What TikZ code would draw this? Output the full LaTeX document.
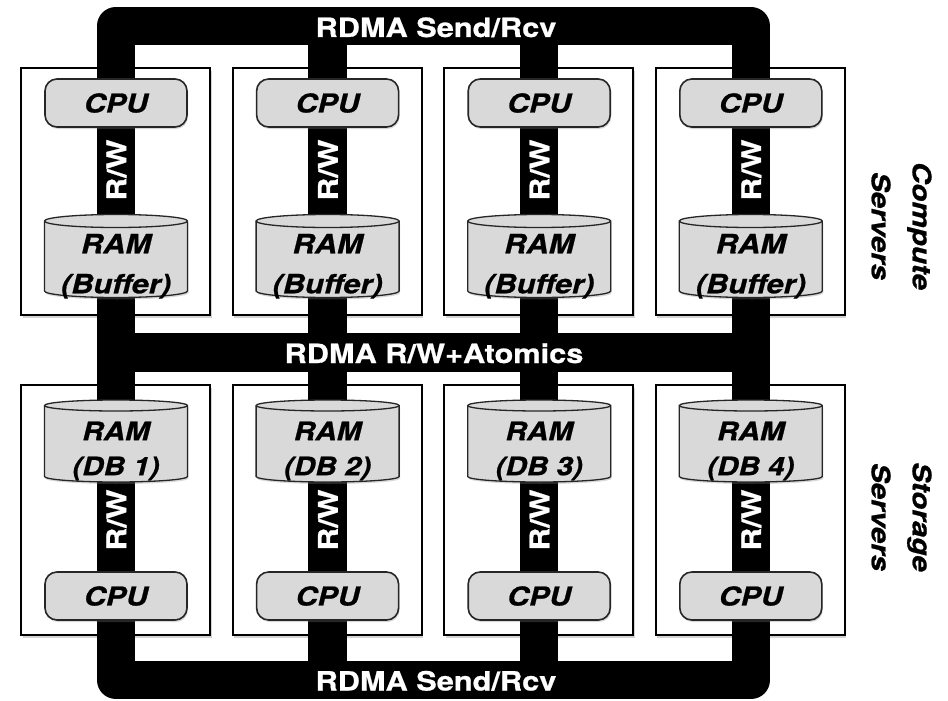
\documentclass[tikz,border=0pt]{standalone}
\usepackage{fontspec}
\newfontfamily\hel{TeX Gyre Heros}[FakeStretch=1.16,FakeBold=0.8]
\usetikzlibrary{shadows}
\definecolor{partgray}{RGB}{217,217,217}
\tikzset{
  bus/.style={line width=38.5pt, draw=black},
  server/.style={draw=black, line width=1.8pt, fill=white,
    drop shadow={shadow xshift=1.5pt, shadow yshift=-3pt, opacity=.35}},
  cpubox/.style={draw=black!85, line width=1.6pt, fill=partgray,
    rounded corners=12pt, minimum width=142pt, minimum height=48pt, inner sep=0pt,
    drop shadow={shadow xshift=1pt, shadow yshift=-2pt, opacity=.3},
    font=\hel\bfseries\itshape\fontsize{26}{30}\selectfont},
  ramshape/.style={draw=black!85, line width=1.3pt, fill=partgray,
    drop shadow={shadow xshift=1pt, shadow yshift=-2pt, opacity=.3}},
  ramedge/.style={draw=black!85, line width=1.3pt},
  ramtext/.style={align=center, inner sep=0pt},
  buslabel/.style={text=white, inner sep=0pt, anchor=base,
    font=\hel\bfseries\fontsize{26.5}{30}\selectfont},
  rwlabel/.style={text=white, inner sep=0pt, rotate=90,
    font=\hel\bfseries\fontsize{27}{30}\selectfont},
  sidelabel/.style={rotate=-90, align=center, inner sep=0pt,
    font=\hel\bfseries\itshape\fontsize{25.5}{41}\selectfont},
}
\begin{document}
\begin{tikzpicture}[x=1pt,y=1pt]
\useasboundingbox (0,0) rectangle (948,-701);

% outer RDMA ring and the middle RDMA bus
\coordinate (ringNW) at (116,-26);
\coordinate (ringSE) at (750.8,-680);
\draw[bus, line join=round] (ringNW) rectangle (ringSE);
\coordinate (midW) at (116,-352.5);
\coordinate (midE) at (750.8,-352.5);
\draw[bus] (midW) -- (midE);

% server boxes
\foreach \k in {0,1,2,3}{
  \pgfmathsetmacro\cx{116+211.6*\k}
  \pgfmathtruncatemacro\n{\k+1}
  \node[server, minimum width=189pt, minimum height=247pt] (compute\n) at (\cx-0.5,-191.5) {};
  \node[server, minimum width=189pt, minimum height=250pt] (storage\n) at (\cx-0.5,-510) {};
}

% vertical links through each server
\foreach \k in {0,1,2,3}{
  \pgfmathsetmacro\cx{116+211.6*\k}
  \pgfmathtruncatemacro\n{\k+1}
  \coordinate (linkTop\n) at (\cx,-26);
  \coordinate (linkBot\n) at (\cx,-680);
  \draw[bus] (linkTop\n) -- (linkBot\n);
}

% CPUs and RAM in every server
\foreach \k in {0,1,2,3}{
  \pgfmathsetmacro\cx{116+211.6*\k}
  \pgfmathtruncatemacro\n{\k+1}
  % compute server
  \node[cpubox] (cpuC\n) at (\cx,-103) {CPU};
  \path[ramshape] (\cx-71.5,-221) -- (\cx-71.5,-291)
    arc[start angle=180, end angle=360, x radius=71.5, y radius=6.5]
    -- (\cx+71.5,-221)
    arc[start angle=0, end angle=180, x radius=71.5, y radius=6.5] -- cycle;
  \draw[ramedge] (\cx-71.5,-221) arc[start angle=180, end angle=360, x radius=71.5, y radius=6.5];
  \node[ramtext, font=\hel\bfseries\itshape\fontsize{26.5}{40}\selectfont] (ramC\n) at (\cx,-266.3) {RAM\\(Buffer)};
  \node[rwlabel] (rwC\n) at (\cx+0.5,-170) {R/W};
  % storage server
  \path[ramshape] (\cx-71.5,-405.5) -- (\cx-71.5,-476.5)
    arc[start angle=180, end angle=360, x radius=71.5, y radius=5.5]
    -- (\cx+71.5,-405.5)
    arc[start angle=0, end angle=180, x radius=71.5, y radius=5.5] -- cycle;
  \draw[ramedge] (\cx-71.5,-405.5) arc[start angle=180, end angle=360, x radius=71.5, y radius=5.5];
  \node[ramtext, font=\hel\bfseries\itshape\fontsize{25.5}{35}\selectfont] (ramS\n) at (\cx,-451) {RAM\\(DB \n)};
  \node[rwlabel] (rwS\n) at (\cx+0.5,-520) {R/W};
  \node[cpubox] (cpuS\n) at (\cx,-596) {CPU};
}

% bus labels
\node[buslabel] (sendTop) at (436,-37) {RDMA Send/Rcv};
\node[buslabel] (rwAtomics) at (434,-363) {RDMA R/W+Atomics};
\node[buslabel] (sendBot) at (436,-690.5) {RDMA Send/Rcv};

% tier labels
\node[sidelabel] (computeTier) at (901.5,-226) {Compute\\Servers};
\node[sidelabel] (storageTier) at (901.5,-517) {Storage\\Servers};
\end{tikzpicture}
\end{document}
